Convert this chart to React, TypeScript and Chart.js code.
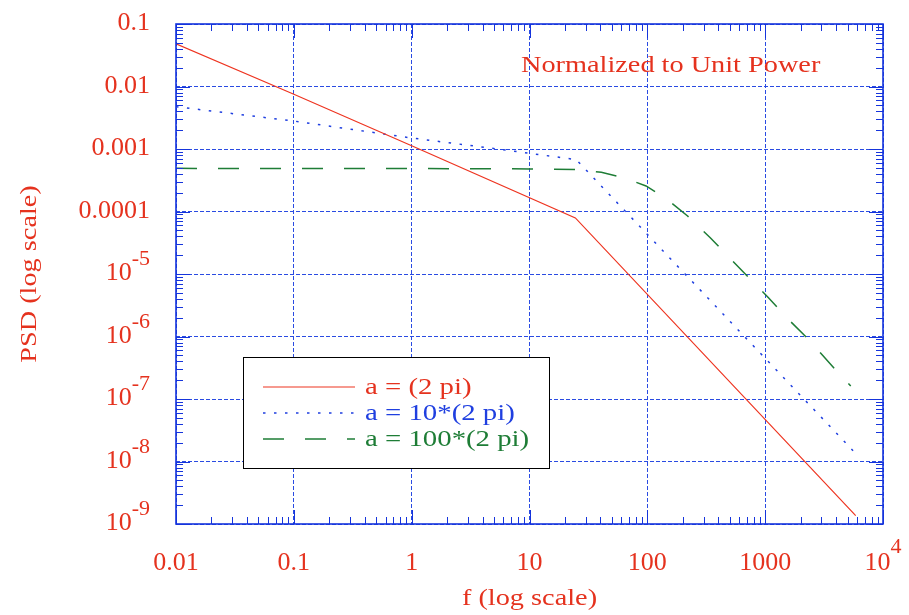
import React, { useEffect, useRef } from "react";
import { Chart, registerables } from "chart.js";

Chart.register(...registerables);

// ---- data ----
const redF = [0.01, 0.1, 1, 24.5, 5866];
const redV = [0.048, 7.5e-3, 1.13e-3, 7.9e-5, 1.36e-9];

const blueF = [0.01, 0.1, 1, 6.35, 24.9, 5570];
const blueV = [4.75e-3, 2.8e-3, 1.5e-3, 9.6e-4, 6.76e-4, 1.49e-8];

const greenF = [0.01, 1, 10, 25, 40.7, 63, 97.5, 146.8, 219.6, 342, 488.7, 721, 1067, 1496, 2183, 2965, 4100, 5324];
const greenV = [4.9e-4, 4.87e-4, 4.8e-4, 4.7e-4, 4.24e-4, 3.48e-4, 2.56e-4, 1.57e-4, 8.47e-5, 3.81e-5, 1.89e-5, 8.86e-6, 4.18e-6, 2.07e-6, 1.02e-6, 5.38e-7, 2.73e-7, 1.61e-7];

const seriesLabels = ["a = (2 pi)", "a = 10*(2 pi)", "a = 100*(2 pi)"];

const xTickValues = [0.01, 0.1, 1, 10, 100, 1000, 10000];
const xTickLabels = ["0.01", "0.1", "1", "10", "100", "1000", "10^4"];
const yTickValues = [1e-9, 1e-8, 1e-7, 1e-6, 1e-5, 1e-4, 1e-3, 1e-2, 1e-1];
const yTickLabels = ["10^-9", "10^-8", "10^-7", "10^-6", "10^-5", "0.0001", "0.001", "0.01", "0.1"];

const titleText = "Normalized to Unit Power";
const xAxisTitle = "f (log scale)";
const yAxisTitle = "PSD (log scale)";

// ---- styles ----
const RED = "#ee3420";
const TEXT_RED = "#e5321e";
const BLUE = "#1f3fe0";
const GREEN = "#1e7d36";
const FRAME = "#1534dc";
const GRID = "#2a4be2";
const FONT = '"Liberation Serif", "Times New Roman", serif';
const WORD_SX = 1.23;

function drawText(ctx: CanvasRenderingContext2D, text: string, x: number, y: number, align: string, size: number, sx: number) {
  ctx.save();
  ctx.font = `${size}px ${FONT}`;
  const w = ctx.measureText(text).width * sx;
  const left = align === "center" ? x - w / 2 : align === "right" ? x - w : x;
  ctx.translate(left, y);
  ctx.scale(sx, 1);
  ctx.textAlign = "left";
  ctx.textBaseline = "alphabetic";
  ctx.fillText(text, 0, 0);
  ctx.restore();
  return w;
}

function drawTickLabel(ctx: CanvasRenderingContext2D, label: string, x: number, y: number, align: string, raise: number) {
  const size = 26;
  const supSize = 22;
  const parts = label.split("^");
  ctx.save();
  ctx.font = `${size}px ${FONT}`;
  const wb = ctx.measureText(parts[0]).width;
  let we = 0;
  if (parts.length > 1) {
    ctx.font = `${supSize}px ${FONT}`;
    we = ctx.measureText(parts[1]).width;
  }
  const total = wb + we;
  const left = align === "center" ? x - total / 2 : x - total;
  ctx.fillStyle = TEXT_RED;
  ctx.textAlign = "left";
  ctx.textBaseline = "alphabetic";
  ctx.font = `${size}px ${FONT}`;
  ctx.fillText(parts[0], left, y);
  if (parts.length > 1) {
    ctx.font = `${supSize}px ${FONT}`;
    ctx.fillText(parts[1], left + wb, y - raise);
  }
  ctx.restore();
}

const decorPlugin = {
  id: "decor",
  afterDatasetsDraw(chart: any) {
    const ctx: CanvasRenderingContext2D = chart.ctx;
    // legend box
    const bx = 243, by = 357, bw = 306, bh = 111;
    ctx.save();
    ctx.fillStyle = "#ffffff";
    ctx.fillRect(bx, by, bw, bh);
    ctx.strokeStyle = "#000000";
    ctx.lineWidth = 1;
    ctx.strokeRect(bx + 0.5, by + 0.5, bw, bh);
    const rows = [387, 413, 439];
    chart.data.datasets.forEach((ds: any, i: number) => {
      const y = rows[i];
      ctx.save();
      ctx.strokeStyle = ds.borderColor;
      ctx.lineWidth = ds.borderWidth;
      ctx.setLineDash(ds.borderDash || []);
      ctx.beginPath();
      ctx.moveTo(263, y);
      ctx.lineTo(355, y);
      ctx.stroke();
      ctx.restore();
      ctx.fillStyle = ds.legendTextColor;
      drawText(ctx, ds.label, 365, y + 7, "left", 24, 1.2);
    });
    ctx.restore();
  },
  afterDraw(chart: any) {
    const ctx: CanvasRenderingContext2D = chart.ctx;
    const a = chart.chartArea;
    const xs = chart.scales.x;
    const ys = chart.scales.y;
    ctx.save();
    // inward tick marks
    ctx.strokeStyle = FRAME;
    ctx.lineWidth = 1;
    const majorLen = 14, minorLen = 7;
    for (let k = -2; k <= 4; k++) {
      for (let m = 1; m <= 9; m++) {
        const v = m * Math.pow(10, k);
        if (v < xs.min * 0.999 || v > xs.max * 1.001) continue;
        const px = Math.round(xs.getPixelForValue(v)) + 0.5;
        const len = m === 1 ? majorLen : minorLen;
        ctx.beginPath();
        ctx.moveTo(px, a.bottom); ctx.lineTo(px, a.bottom - len);
        ctx.moveTo(px, a.top); ctx.lineTo(px, a.top + len);
        ctx.stroke();
      }
    }
    for (let k = -9; k <= -1; k++) {
      for (let m = 1; m <= 9; m++) {
        const v = m * Math.pow(10, k);
        if (v < ys.min * 0.999 || v > ys.max * 1.001) continue;
        const py = Math.round(ys.getPixelForValue(v)) + 0.5;
        const len = m === 1 ? majorLen : minorLen;
        ctx.beginPath();
        ctx.moveTo(a.left, py); ctx.lineTo(a.left + len, py);
        ctx.moveTo(a.right, py); ctx.lineTo(a.right - len, py);
        ctx.stroke();
      }
    }
    // frame
    ctx.lineWidth = 1.6;
    ctx.strokeRect(a.left, a.top, a.right - a.left, a.bottom - a.top);
    ctx.restore();

    // tick labels
    xTickValues.forEach((v, i) => {
      drawTickLabel(ctx, xTickLabels[i], xs.getPixelForValue(v), a.bottom + 46, "center", 17);
    });
    yTickValues.forEach((v, i) => {
      drawTickLabel(ctx, yTickLabels[i], a.left - 26, ys.getPixelForValue(v) + 6, "right", 15);
    });

    // titles
    ctx.save();
    ctx.fillStyle = TEXT_RED;
    drawText(ctx, titleText, 521, 72, "left", 23, WORD_SX);
    drawText(ctx, xAxisTitle, (a.left + a.right) / 2, 605, "center", 23, WORD_SX);
    ctx.translate(36, (a.top + a.bottom) / 2);
    ctx.rotate(-Math.PI / 2);
    drawText(ctx, yAxisTitle, 0, 0, "center", 23, WORD_SX);
    ctx.restore();
  },
};

function pts(fs: number[], vs: number[]) {
  return fs.map((f, i) => ({ x: f, y: vs[i] }));
}

export default function App() {
  const ref = useRef<HTMLCanvasElement | null>(null);
  useEffect(() => {
    if (!ref.current) return;
    const chart = new Chart(ref.current, {
      type: "scatter",
      data: {
        datasets: [
          { label: seriesLabels[0], data: pts(redF, redV), showLine: true, borderColor: RED, borderWidth: 1.2, pointRadius: 0, legendTextColor: TEXT_RED } as any,
          { label: seriesLabels[1], data: pts(blueF, blueV), showLine: true, borderColor: BLUE, borderWidth: 1.5, borderDash: [2.5, 8.5], pointRadius: 0, legendTextColor: BLUE } as any,
          { label: seriesLabels[2], data: pts(greenF, greenV), showLine: true, borderColor: GREEN, borderWidth: 1.5, borderDash: [21, 21], pointRadius: 0, legendTextColor: GREEN } as any,
        ],
      },
      options: {
        responsive: false,
        animation: false,
        devicePixelRatio: 1,
        layout: { padding: { left: 176, right: 26, top: 24, bottom: 91 } },
        plugins: { legend: { display: false }, tooltip: { enabled: false }, title: { display: false } },
        scales: {
          x: {
            type: "logarithmic",
            min: 0.01,
            max: 10000,
            afterBuildTicks: (s: any) => { s.ticks = xTickValues.map((v) => ({ value: v })); },
            ticks: { display: false },
            grid: { color: GRID, lineWidth: 1, drawTicks: false },
            border: { display: false, dash: [4, 2] },
          },
          y: {
            type: "logarithmic",
            min: 1e-9,
            max: 0.1,
            afterBuildTicks: (s: any) => { s.ticks = yTickValues.map((v) => ({ value: v })); },
            ticks: { display: false },
            grid: { color: GRID, lineWidth: 1, drawTicks: false },
            border: { display: false, dash: [4, 2] },
          },
        },
      } as any,
      plugins: [decorPlugin],
    });
    return () => chart.destroy();
  }, []);
  return (
    <div style={{ position: "absolute", left: 0, top: 0, width: 909, height: 615, background: "#fff" }}>
      <canvas ref={ref} width={909} height={615} style={{ display: "block" }} />
    </div>
  );
}
